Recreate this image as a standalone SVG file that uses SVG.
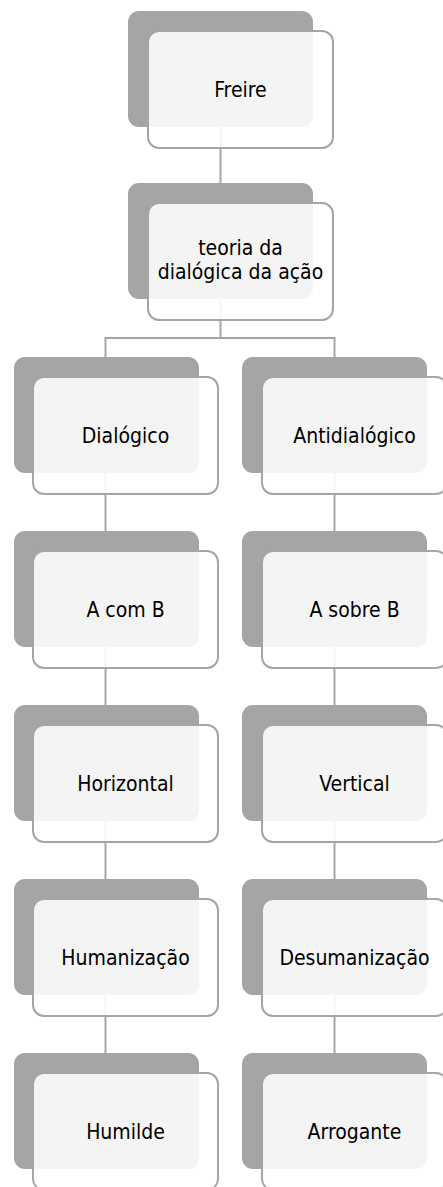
<svg xmlns="http://www.w3.org/2000/svg" width="443" height="1187" viewBox="0 0 443 1187">
<style>
.back{fill:#a5a5a5}
.front{fill:#ffffff;fill-opacity:0.88;stroke:#a5a5a5;stroke-width:2}
.lbl{font-family:"DejaVu Sans Condensed","DejaVu Sans",sans-serif;font-stretch:condensed;font-size:21px;fill:#000;text-anchor:middle}
.conn{stroke:#a5a5a5;stroke-width:2;fill:none}
</style>
<rect width="443" height="1187" fill="#fff"/>
<g id="connectors">
<line class="conn" x1="220.5" y1="127" x2="220.5" y2="183"/>
<path class="conn" d="M220.5 299 V338 M105.5 357 V338 H334.5 V357"/>
<line class="conn" x1="105.5" y1="473" x2="105.5" y2="531"/>
<line class="conn" x1="105.5" y1="647" x2="105.5" y2="705"/>
<line class="conn" x1="105.5" y1="821" x2="105.5" y2="879"/>
<line class="conn" x1="105.5" y1="995" x2="105.5" y2="1053"/>
<line class="conn" x1="334.5" y1="473" x2="334.5" y2="531"/>
<line class="conn" x1="334.5" y1="647" x2="334.5" y2="705"/>
<line class="conn" x1="334.5" y1="821" x2="334.5" y2="879"/>
<line class="conn" x1="334.5" y1="995" x2="334.5" y2="1053"/>
</g>
<g id="n-freire"><rect class="back" x="128" y="11" width="185" height="116" rx="11"/><rect class="front" x="148" y="31" width="185" height="117" rx="11"/><text class="lbl" x="240.5" y="97">Freire</text></g>
<g id="n-teoria"><rect class="back" x="128" y="183" width="185" height="116" rx="11"/><rect class="front" x="148" y="203" width="185" height="117" rx="11"/><text class="lbl" x="240.5" y="255">teoria da</text><text class="lbl" x="240.5" y="279">dialógica da ação</text></g>
<g id="n-dialogico"><rect class="back" x="14" y="357" width="185" height="116" rx="11"/><rect class="front" x="33" y="377" width="185" height="117" rx="11"/><text class="lbl" x="125.5" y="443">Dialógico</text></g>
<g id="n-antidialogico"><rect class="back" x="242" y="357" width="185" height="116" rx="11"/><rect class="front" x="262" y="377" width="185" height="117" rx="11"/><text class="lbl" x="354.5" y="443">Antidialógico</text></g>
<g id="n-acomb"><rect class="back" x="14" y="531" width="185" height="116" rx="11"/><rect class="front" x="33" y="551" width="185" height="117" rx="11"/><text class="lbl" x="125.5" y="617">A com B</text></g>
<g id="n-asobreb"><rect class="back" x="242" y="531" width="185" height="116" rx="11"/><rect class="front" x="262" y="551" width="185" height="117" rx="11"/><text class="lbl" x="354.5" y="617">A sobre B</text></g>
<g id="n-horizontal"><rect class="back" x="14" y="705" width="185" height="116" rx="11"/><rect class="front" x="33" y="725" width="185" height="117" rx="11"/><text class="lbl" x="125.5" y="791">Horizontal</text></g>
<g id="n-vertical"><rect class="back" x="242" y="705" width="185" height="116" rx="11"/><rect class="front" x="262" y="725" width="185" height="117" rx="11"/><text class="lbl" x="354.5" y="791">Vertical</text></g>
<g id="n-humanizacao"><rect class="back" x="14" y="879" width="185" height="116" rx="11"/><rect class="front" x="33" y="899" width="185" height="117" rx="11"/><text class="lbl" x="125.5" y="965">Humanização</text></g>
<g id="n-desumanizacao"><rect class="back" x="242" y="879" width="185" height="116" rx="11"/><rect class="front" x="262" y="899" width="185" height="117" rx="11"/><text class="lbl" x="354.5" y="965">Desumanização</text></g>
<g id="n-humilde"><rect class="back" x="14" y="1053" width="185" height="116" rx="11"/><rect class="front" x="33" y="1073" width="185" height="117" rx="11"/><text class="lbl" x="125.5" y="1139">Humilde</text></g>
<g id="n-arrogante"><rect class="back" x="242" y="1053" width="185" height="116" rx="11"/><rect class="front" x="262" y="1073" width="185" height="117" rx="11"/><text class="lbl" x="354.5" y="1139">Arrogante</text></g>
</svg>
